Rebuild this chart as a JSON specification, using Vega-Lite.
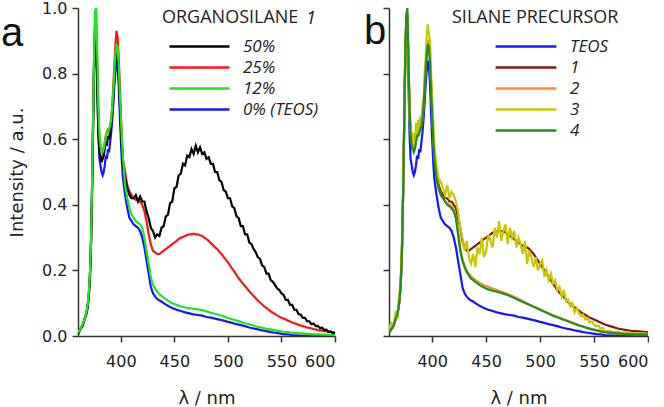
{
"$schema": "https://vega.github.io/schema/vega-lite/v6.json",
"padding": {"left": 0, "top": 0, "right": 0, "bottom": 0},
"bounds": "flush",
"spacing": 54,
"datasets": {
"A": [
{"x":360,"50%":0.005,"25%":0.01,"12%":0.01,"0% (TEOS)":0.01},
{"x":362,"50%":0.02,"25%":0.02,"12%":0.02,"0% (TEOS)":0.02},
{"x":364,"50%":0.03,"25%":0.03,"12%":0.035,"0% (TEOS)":0.03},
{"x":366,"50%":0.05,"25%":0.05,"12%":0.05,"0% (TEOS)":0.05},
{"x":368,"50%":0.07,"25%":0.07,"12%":0.075,"0% (TEOS)":0.07},
{"x":369,"50%":0.09,"25%":0.09,"12%":0.095,"0% (TEOS)":0.09},
{"x":370,"50%":0.12,"25%":0.12,"12%":0.13,"0% (TEOS)":0.12},
{"x":371,"50%":0.17,"25%":0.17,"12%":0.18,"0% (TEOS)":0.17},
{"x":372,"50%":0.26,"25%":0.26,"12%":0.27,"0% (TEOS)":0.26},
{"x":373,"50%":0.42,"25%":0.42,"12%":0.44,"0% (TEOS)":0.42},
{"x":374,"50%":0.62,"25%":0.63,"12%":0.65,"0% (TEOS)":0.63},
{"x":375,"50%":0.82,"25%":0.84,"12%":0.86,"0% (TEOS)":0.84},
{"x":376,"50%":0.9,"25%":0.96,"12%":0.99,"0% (TEOS)":0.95},
{"x":377,"50%":0.88,"25%":0.95,"12%":1.0,"0% (TEOS)":0.93},
{"x":378,"50%":0.75,"25%":0.82,"12%":0.86,"0% (TEOS)":0.78},
{"x":379,"50%":0.62,"25%":0.68,"12%":0.7,"0% (TEOS)":0.62},
{"x":380,"50%":0.56,"25%":0.6,"12%":0.61,"0% (TEOS)":0.54},
{"x":381,"50%":0.55,"25%":0.58,"12%":0.58,"0% (TEOS)":0.52},
{"x":382,"50%":0.53,"25%":0.57,"12%":0.56,"0% (TEOS)":0.5},
{"x":383,"50%":0.54,"25%":0.56,"12%":0.56,"0% (TEOS)":0.49},
{"x":384,"50%":0.55,"25%":0.57,"12%":0.57,"0% (TEOS)":0.5},
{"x":385,"50%":0.57,"25%":0.59,"12%":0.59,"0% (TEOS)":0.52},
{"x":386,"50%":0.59,"25%":0.61,"12%":0.61,"0% (TEOS)":0.55},
{"x":387,"50%":0.58,"25%":0.62,"12%":0.62,"0% (TEOS)":0.54},
{"x":388,"50%":0.61,"25%":0.63,"12%":0.62,"0% (TEOS)":0.57},
{"x":389,"50%":0.6,"25%":0.63,"12%":0.63,"0% (TEOS)":0.56},
{"x":390,"50%":0.62,"25%":0.64,"12%":0.64,"0% (TEOS)":0.59},
{"x":391,"50%":0.64,"25%":0.66,"12%":0.66,"0% (TEOS)":0.62},
{"x":392,"50%":0.68,"25%":0.7,"12%":0.7,"0% (TEOS)":0.66},
{"x":393,"50%":0.73,"25%":0.76,"12%":0.75,"0% (TEOS)":0.71},
{"x":394,"50%":0.79,"25%":0.83,"12%":0.81,"0% (TEOS)":0.77},
{"x":395,"50%":0.84,"25%":0.89,"12%":0.86,"0% (TEOS)":0.81},
{"x":396,"50%":0.87,"25%":0.93,"12%":0.89,"0% (TEOS)":0.84},
{"x":397,"50%":0.86,"25%":0.91,"12%":0.88,"0% (TEOS)":0.82},
{"x":398,"50%":0.8,"25%":0.85,"12%":0.83,"0% (TEOS)":0.77},
{"x":399,"50%":0.72,"25%":0.77,"12%":0.75,"0% (TEOS)":0.68},
{"x":400,"50%":0.64,"25%":0.68,"12%":0.67,"0% (TEOS)":0.6},
{"x":401,"50%":0.57,"25%":0.6,"12%":0.6,"0% (TEOS)":0.53},
{"x":402,"50%":0.52,"25%":0.54,"12%":0.54,"0% (TEOS)":0.48},
{"x":404,"50%":0.48,"25%":0.5,"12%":0.46,"0% (TEOS)":0.43},
{"x":406,"50%":0.45,"25%":0.46,"12%":0.42,"0% (TEOS)":0.39},
{"x":408,"50%":0.43,"25%":0.44,"12%":0.39,"0% (TEOS)":0.36},
{"x":410,"50%":0.42,"25%":0.43,"12%":0.37,"0% (TEOS)":0.35},
{"x":412,"50%":0.42,"25%":0.42,"12%":0.36,"0% (TEOS)":0.34},
{"x":414,"50%":0.43,"25%":0.415,"12%":0.35,"0% (TEOS)":0.335},
{"x":416,"50%":0.41,"25%":0.415,"12%":0.345,"0% (TEOS)":0.33},
{"x":418,"50%":0.425,"25%":0.41,"12%":0.34,"0% (TEOS)":0.32},
{"x":420,"50%":0.41,"25%":0.4,"12%":0.33,"0% (TEOS)":0.3},
{"x":422,"50%":0.41,"25%":0.38,"12%":0.3,"0% (TEOS)":0.27},
{"x":424,"50%":0.38,"25%":0.35,"12%":0.26,"0% (TEOS)":0.23},
{"x":426,"50%":0.36,"25%":0.31,"12%":0.22,"0% (TEOS)":0.19},
{"x":428,"50%":0.33,"25%":0.28,"12%":0.18,"0% (TEOS)":0.15},
{"x":430,"50%":0.32,"25%":0.26,"12%":0.155,"0% (TEOS)":0.13},
{"x":432,"50%":0.3,"25%":0.255,"12%":0.145,"0% (TEOS)":0.12},
{"x":434,"50%":0.31,"25%":0.25,"12%":0.135,"0% (TEOS)":0.113},
{"x":436,"50%":0.305,"25%":0.25,"12%":0.128,"0% (TEOS)":0.108},
{"x":438,"50%":0.33,"25%":0.255,"12%":0.122,"0% (TEOS)":0.105},
{"x":440,"50%":0.335,"25%":0.26,"12%":0.117,"0% (TEOS)":0.1},
{"x":442,"50%":0.365,"25%":0.265},
{"x":444,"50%":0.37,"25%":0.27,"12%":0.108,"0% (TEOS)":0.092},
{"x":446,"50%":0.405,"25%":0.275},
{"x":448,"50%":0.41,"25%":0.28,"12%":0.1,"0% (TEOS)":0.085},
{"x":450,"50%":0.45,"25%":0.285},
{"x":452,"50%":0.455,"25%":0.29,"12%":0.095,"0% (TEOS)":0.08},
{"x":454,"50%":0.49,"25%":0.295},
{"x":456,"50%":0.495,"25%":0.3,"12%":0.09,"0% (TEOS)":0.076},
{"x":458,"50%":0.525,"25%":0.302},
{"x":460,"50%":0.52,"25%":0.305,"12%":0.087,"0% (TEOS)":0.072},
{"x":462,"50%":0.55,"25%":0.308},
{"x":464,"50%":0.545,"25%":0.31,"12%":0.085,"0% (TEOS)":0.069},
{"x":466,"50%":0.57,"25%":0.31},
{"x":468,"50%":0.555,"25%":0.312,"12%":0.083,"0% (TEOS)":0.066},
{"x":470,"50%":0.58,"25%":0.31},
{"x":472,"50%":0.56,"25%":0.31,"12%":0.081,"0% (TEOS)":0.064},
{"x":474,"50%":0.575,"25%":0.307},
{"x":476,"50%":0.555,"25%":0.305,"12%":0.079,"0% (TEOS)":0.062},
{"x":478,"50%":0.56,"25%":0.3},
{"x":480,"50%":0.54,"25%":0.295,"12%":0.075,"0% (TEOS)":0.058},
{"x":482,"50%":0.545,"25%":0.29},
{"x":484,"50%":0.525,"25%":0.283,"12%":0.071,"0% (TEOS)":0.056},
{"x":486,"50%":0.525,"25%":0.277},
{"x":488,"50%":0.5,"25%":0.27,"12%":0.068,"0% (TEOS)":0.053},
{"x":490,"50%":0.5,"25%":0.265},
{"x":492,"50%":0.475,"25%":0.257,"12%":0.064,"0% (TEOS)":0.05},
{"x":494,"50%":0.47,"25%":0.25},
{"x":496,"50%":0.445,"25%":0.241,"12%":0.06,"0% (TEOS)":0.047},
{"x":498,"50%":0.44,"25%":0.233},
{"x":500,"50%":0.42,"25%":0.225,"12%":0.055,"0% (TEOS)":0.043},
{"x":502,"50%":0.42,"25%":0.215},
{"x":504,"50%":0.395,"25%":0.205,"12%":0.051,"0% (TEOS)":0.04},
{"x":506,"50%":0.39,"25%":0.196},
{"x":508,"50%":0.365,"25%":0.186,"12%":0.047,"0% (TEOS)":0.036},
{"x":510,"50%":0.36,"25%":0.176},
{"x":512,"50%":0.335,"25%":0.168,"12%":0.043,"0% (TEOS)":0.033},
{"x":514,"50%":0.335,"25%":0.16},
{"x":516,"50%":0.31,"25%":0.152,"12%":0.039,"0% (TEOS)":0.03},
{"x":518,"50%":0.31,"25%":0.144},
{"x":520,"50%":0.285,"25%":0.136,"12%":0.036,"0% (TEOS)":0.026},
{"x":522,"50%":0.28,"25%":0.129},
{"x":524,"50%":0.265,"25%":0.122,"12%":0.032,"0% (TEOS)":0.023},
{"x":526,"50%":0.255,"25%":0.115},
{"x":528,"50%":0.24,"25%":0.108,"12%":0.028,"0% (TEOS)":0.02},
{"x":530,"50%":0.235,"25%":0.102},
{"x":532,"50%":0.215,"25%":0.096,"12%":0.025,"0% (TEOS)":0.017},
{"x":534,"50%":0.21,"25%":0.09},
{"x":536,"50%":0.19,"25%":0.085,"12%":0.022,"0% (TEOS)":0.015},
{"x":538,"50%":0.19,"25%":0.08},
{"x":540,"50%":0.17,"25%":0.075,"12%":0.02,"0% (TEOS)":0.012},
{"x":542,"50%":0.165,"25%":0.071},
{"x":544,"50%":0.155,"25%":0.067,"12%":0.017,"0% (TEOS)":0.01},
{"x":546,"50%":0.145,"25%":0.063},
{"x":548,"50%":0.14,"25%":0.059,"12%":0.015,"0% (TEOS)":0.008},
{"x":550,"50%":0.13,"25%":0.056},
{"x":552,"50%":0.125,"25%":0.053,"12%":0.013,"0% (TEOS)":0.006},
{"x":554,"50%":0.11,"25%":0.05},
{"x":556,"50%":0.11,"25%":0.047,"12%":0.012,"0% (TEOS)":0.005},
{"x":558,"50%":0.095,"25%":0.044},
{"x":560,"50%":0.095,"25%":0.041,"12%":0.01,"0% (TEOS)":0.003},
{"x":562,"50%":0.08,"25%":0.039},
{"x":564,"50%":0.08,"25%":0.037,"12%":0.009,"0% (TEOS)":0.002},
{"x":566,"50%":0.067,"25%":0.034},
{"x":568,"50%":0.065,"25%":0.032,"12%":0.008,"0% (TEOS)":0.001},
{"x":570,"50%":0.055,"25%":0.03},
{"x":572,"50%":0.055,"25%":0.028,"12%":0.007,"0% (TEOS)":0.001},
{"x":574,"50%":0.045,"25%":0.026},
{"x":576,"50%":0.045,"25%":0.025,"12%":0.006,"0% (TEOS)":0},
{"x":578,"50%":0.036,"25%":0.023},
{"x":580,"50%":0.038,"25%":0.021,"12%":0.005,"0% (TEOS)":0},
{"x":582,"50%":0.03,"25%":0.02},
{"x":584,"50%":0.031,"25%":0.018,"12%":0.005,"0% (TEOS)":0},
{"x":586,"50%":0.024,"25%":0.017},
{"x":588,"50%":0.025,"25%":0.016,"12%":0.004,"0% (TEOS)":0},
{"x":590,"50%":0.018,"25%":0.015},
{"x":592,"50%":0.019,"25%":0.014,"12%":0.004,"0% (TEOS)":0},
{"x":594,"50%":0.013,"25%":0.013},
{"x":596,"50%":0.014,"25%":0.012,"12%":0.003,"0% (TEOS)":0},
{"x":598,"50%":0.009,"25%":0.011},
{"x":600,"50%":0.01,"25%":0.01,"12%":0.003,"0% (TEOS)":0}
],
"B": [
{"x":360,"TEOS":0.01,"1":0.01,"2":0.01,"3":0.02,"4":0.01},
{"x":362,"TEOS":0.02,"1":0.02,"2":0.02,"3":0.04,"4":0.02},
{"x":364,"TEOS":0.03,"1":0.03,"2":0.03,"3":0.03,"4":0.03},
{"x":366,"TEOS":0.05,"1":0.05,"2":0.05,"3":0.07,"4":0.05},
{"x":368,"TEOS":0.07,"1":0.07,"2":0.07,"3":0.06,"4":0.07},
{"x":369,"TEOS":0.09,"1":0.09,"2":0.09,"3":0.11,"4":0.09},
{"x":370,"TEOS":0.12,"1":0.12,"2":0.12,"3":0.13,"4":0.12},
{"x":371,"TEOS":0.17,"1":0.17,"2":0.17,"3":0.2,"4":0.17},
{"x":372,"TEOS":0.26,"1":0.26,"2":0.26,"3":0.28,"4":0.26},
{"x":373,"TEOS":0.42,"1":0.42,"2":0.42,"3":0.45,"4":0.42},
{"x":374,"TEOS":0.63,"1":0.63,"2":0.63,"3":0.6,"4":0.63},
{"x":375,"TEOS":0.84,"1":0.84,"2":0.84,"3":0.8,"4":0.84},
{"x":376,"TEOS":0.95,"1":0.97,"2":0.97,"3":0.93,"4":0.98},
{"x":377,"TEOS":0.93,"1":0.98,"2":0.98,"3":0.95,"4":1.0},
{"x":378,"TEOS":0.78,"1":0.84,"2":0.84,"3":0.85,"4":0.85},
{"x":379,"TEOS":0.62,"1":0.7,"2":0.7,"3":0.66,"4":0.7},
{"x":380,"TEOS":0.54,"1":0.62,"2":0.62,"3":0.63,"4":0.61},
{"x":381,"TEOS":0.52,"1":0.59,"2":0.59,"3":0.62,"4":0.58},
{"x":382,"TEOS":0.5,"1":0.57,"2":0.57,"3":0.59,"4":0.57},
{"x":383,"TEOS":0.49,"1":0.57,"2":0.57,"3":0.62,"4":0.56},
{"x":384,"TEOS":0.5,"1":0.58,"2":0.58,"3":0.58,"4":0.57},
{"x":385,"TEOS":0.52,"1":0.6,"2":0.6,"3":0.65,"4":0.59},
{"x":386,"TEOS":0.55,"1":0.61,"2":0.61,"3":0.6,"4":0.61},
{"x":387,"TEOS":0.54,"1":0.62,"2":0.62,"3":0.66,"4":0.61},
{"x":388,"TEOS":0.57,"1":0.63,"2":0.63,"3":0.61,"4":0.62},
{"x":389,"TEOS":0.56,"1":0.63,"2":0.63,"3":0.67,"4":0.63},
{"x":390,"TEOS":0.59,"1":0.64,"2":0.64,"3":0.65,"4":0.64},
{"x":391,"TEOS":0.62,"1":0.66,"2":0.66,"3":0.7,"4":0.66},
{"x":392,"TEOS":0.66,"1":0.7,"2":0.7,"3":0.72,"4":0.7},
{"x":393,"TEOS":0.71,"1":0.76,"2":0.76,"3":0.8,"4":0.75},
{"x":394,"TEOS":0.77,"1":0.82,"2":0.82,"3":0.85,"4":0.81},
{"x":395,"TEOS":0.81,"1":0.87,"2":0.87,"3":0.92,"4":0.86},
{"x":396,"TEOS":0.84,"1":0.9,"2":0.9,"3":0.95,"4":0.89},
{"x":397,"TEOS":0.82,"1":0.9,"2":0.9,"3":0.92,"4":0.88},
{"x":398,"TEOS":0.77,"1":0.85,"2":0.85,"3":0.9,"4":0.83},
{"x":399,"TEOS":0.68,"1":0.77,"2":0.77,"3":0.8,"4":0.75},
{"x":400,"TEOS":0.6,"1":0.69,"2":0.69,"3":0.72,"4":0.67},
{"x":401,"TEOS":0.53,"1":0.61,"2":0.61,"3":0.66,"4":0.6},
{"x":402,"TEOS":0.48,"1":0.55,"2":0.55,"3":0.58,"4":0.54},
{"x":404,"TEOS":0.43,"1":0.5,"2":0.49,"3":0.52,"4":0.48},
{"x":406,"TEOS":0.39,"1":0.46,"2":0.45,"3":0.48,"4":0.45},
{"x":408,"TEOS":0.36,"1":0.44,"2":0.43,"3":0.47,"4":0.43},
{"x":410,"TEOS":0.35,"1":0.43,"2":0.42,"3":0.45,"4":0.42},
{"x":412,"TEOS":0.34,"1":0.42,"2":0.41,"3":0.43,"4":0.41},
{"x":414,"TEOS":0.335,"1":0.42,"2":0.405,"3":0.46,"4":0.4},
{"x":416,"TEOS":0.33,"1":0.41,"2":0.4,"3":0.42,"4":0.395},
{"x":418,"TEOS":0.32,"1":0.41,"2":0.395,"3":0.44,"4":0.39},
{"x":420,"TEOS":0.3,"1":0.4,"2":0.385,"3":0.43,"4":0.38},
{"x":422,"TEOS":0.27,"1":0.39,"2":0.36,"3":0.41,"4":0.36},
{"x":424,"TEOS":0.23,"1":0.36,"2":0.32,"3":0.38,"4":0.31},
{"x":426,"TEOS":0.19,"1":0.33,"2":0.27,"3":0.33,"4":0.26},
{"x":428,"TEOS":0.15,"1":0.29,"2":0.235,"3":0.3,"4":0.23},
{"x":430,"TEOS":0.13,"1":0.27,"2":0.215,"3":0.26,"4":0.21},
{"x":432,"TEOS":0.12,"1":0.26,"2":0.2,"3":0.29,"4":0.195},
{"x":434,"TEOS":0.113,"1":0.26,"2":0.19,"3":0.24,"4":0.185},
{"x":436,"TEOS":0.108,"1":0.265,"2":0.182,"3":0.22,"4":0.175},
{"x":438,"TEOS":0.105,"1":0.27,"2":0.176,"3":0.25,"4":0.17},
{"x":440,"TEOS":0.1,"1":0.275,"2":0.171,"3":0.21,"4":0.165},
{"x":442,"1":0.28,"3":0.27},
{"x":444,"TEOS":0.092,"1":0.285,"2":0.162,"3":0.25,"4":0.155},
{"x":446,"1":0.29,"3":0.3},
{"x":448,"TEOS":0.085,"1":0.295,"2":0.155,"3":0.24,"4":0.148},
{"x":450,"1":0.3,"3":0.26},
{"x":452,"TEOS":0.08,"1":0.305,"2":0.15,"3":0.31,"4":0.142},
{"x":454,"1":0.31,"3":0.29},
{"x":456,"TEOS":0.076,"1":0.315,"2":0.145,"3":0.27,"4":0.138},
{"x":458,"1":0.318,"3":0.33},
{"x":460,"TEOS":0.072,"1":0.32,"2":0.14,"3":0.3,"4":0.135},
{"x":462,"1":0.32,"3":0.35},
{"x":464,"TEOS":0.069,"1":0.32,"2":0.135,"3":0.29,"4":0.131},
{"x":466,"1":0.32,"3":0.32},
{"x":468,"TEOS":0.066,"1":0.315,"2":0.13,"3":0.34,"4":0.127},
{"x":470,"1":0.31,"3":0.28},
{"x":472,"TEOS":0.064,"1":0.305,"2":0.125,"3":0.33,"4":0.122},
{"x":474,"1":0.3,"3":0.3},
{"x":476,"TEOS":0.062,"1":0.295,"2":0.12,"3":0.32,"4":0.116},
{"x":478,"1":0.29,"3":0.27},
{"x":480,"TEOS":0.058,"1":0.285,"2":0.113,"3":0.3,"4":0.11},
{"x":482,"1":0.28,"3":0.28},
{"x":484,"TEOS":0.056,"1":0.275,"2":0.106,"3":0.25,"4":0.104},
{"x":486,"1":0.27,"3":0.29},
{"x":488,"TEOS":0.053,"1":0.27,"2":0.099,"3":0.22,"4":0.098},
{"x":490,"1":0.265,"3":0.26},
{"x":492,"TEOS":0.05,"1":0.258,"2":0.093,"3":0.24,"4":0.092},
{"x":494,"1":0.25,"3":0.21},
{"x":496,"TEOS":0.047,"1":0.24,"2":0.087,"3":0.24,"4":0.086},
{"x":498,"1":0.23,"3":0.2},
{"x":500,"TEOS":0.043,"1":0.22,"2":0.081,"3":0.22,"4":0.08},
{"x":502,"1":0.21,"3":0.23},
{"x":504,"TEOS":0.04,"1":0.2,"2":0.075,"3":0.18,"4":0.074},
{"x":506,"1":0.19,"3":0.2},
{"x":508,"TEOS":0.036,"1":0.18,"2":0.069,"3":0.17,"4":0.068},
{"x":510,"1":0.17,"3":0.19},
{"x":512,"TEOS":0.033,"1":0.16,"2":0.063,"3":0.16,"4":0.062},
{"x":514,"1":0.15,"3":0.17},
{"x":516,"TEOS":0.03,"1":0.14,"2":0.058,"3":0.14,"4":0.057},
{"x":518,"1":0.132,"3":0.15},
{"x":520,"TEOS":0.026,"1":0.125,"2":0.053,"3":0.12,"4":0.052},
{"x":522,"1":0.118,"3":0.14},
{"x":524,"TEOS":0.023,"1":0.111,"2":0.048,"3":0.105,"4":0.047},
{"x":526,"1":0.104,"3":0.11},
{"x":528,"TEOS":0.02,"1":0.098,"2":0.043,"3":0.09,"4":0.042},
{"x":530,"1":0.092,"3":0.1},
{"x":532,"TEOS":0.017,"1":0.087,"2":0.038,"3":0.072,"4":0.037},
{"x":534,"1":0.082,"3":0.085},
{"x":536,"TEOS":0.015,"1":0.077,"2":0.033,"3":0.07,"4":0.032},
{"x":538,"1":0.072,"3":0.06},
{"x":540,"TEOS":0.012,"1":0.068,"2":0.029,"3":0.065,"4":0.028},
{"x":542,"1":0.064,"3":0.05},
{"x":544,"TEOS":0.01,"1":0.06,"2":0.025,"3":0.055,"4":0.024},
{"x":546,"1":0.056,"3":0.04},
{"x":548,"TEOS":0.008,"1":0.053,"2":0.021,"3":0.045,"4":0.02},
{"x":550,"1":0.05,"3":0.035},
{"x":552,"TEOS":0.006,"1":0.047,"2":0.018,"3":0.03,"4":0.017},
{"x":554,"1":0.044,"3":0.032},
{"x":556,"TEOS":0.005,"1":0.041,"2":0.015,"3":0.022,"4":0.014},
{"x":558,"1":0.038,"3":0.025},
{"x":560,"TEOS":0.003,"1":0.035,"2":0.013,"3":0.015,"4":0.012},
{"x":564,"TEOS":0.002,"1":0.031,"2":0.011,"3":0.016,"4":0.01},
{"x":568,"TEOS":0.001,"1":0.027,"2":0.009,"3":0.012,"4":0.009},
{"x":572,"TEOS":0.001,"1":0.023,"2":0.008,"3":0.013,"4":0.008},
{"x":576,"TEOS":0,"1":0.02,"2":0.007,"3":0.009,"4":0.007},
{"x":580,"TEOS":0,"1":0.018,"2":0.006,"3":0.01,"4":0.006},
{"x":584,"TEOS":0,"1":0.016,"2":0.006,"3":0.008,"4":0.006},
{"x":588,"TEOS":0,"1":0.015,"2":0.005,"3":0.009,"4":0.005},
{"x":592,"TEOS":0,"1":0.014,"2":0.005,"3":0.007,"4":0.005},
{"x":596,"TEOS":0,"1":0.013,"2":0.005,"3":0.008,"4":0.005},
{"x":600,"TEOS":0,"1":0.012,"2":0.005,"3":0.007,"4":0.005}
]
},
"hconcat": [
{
"width": 257, "height": 328,
"layer": [
{
"data": {"name": "A"},
"transform": [{"fold": ["0% (TEOS)", "25%", "50%", "12%"], "as": ["s", "y"]}, {"filter": "isValid(datum.y)"}],
"mark": {"type": "line", "strokeWidth": 2.2, "clip": true},
"encoding": {
"x": {"field": "x", "type": "quantitative", "scale": {"domain": [360, 600], "nice": false, "zero": false}, "axis": {"values": [400, 450, 500, 550, 600], "title": "λ / nm", "labelPadding": 11, "titlePadding": 20}},
"y": {"field": "y", "type": "quantitative", "scale": {"domain": [0, 1]}, "axis": {"values": [0, 0.2, 0.4, 0.6, 0.8, 1.0], "format": ".1f", "title": "Intensity / a.u.", "labelPadding": 5, "titlePadding": 15}},
"color": {"field": "s", "type": "nominal", "scale": {"domain": ["50%", "25%", "12%", "0% (TEOS)"], "range": ["#000000", "#ff1414", "#1ee61e", "#1414ff"]},
"legend": {"orient": "none", "legendX": 84, "legendY": 1, "title": "ORGANOSILANE", "titleFont": "Open Sans", "titleFontSize": 18, "titleFontWeight": "normal", "titleColor": "#222", "titlePadding": 9, "labelFont": "Open Sans", "labelFontStyle": "italic", "labelFontSize": 17, "labelColor": "#222", "symbolType": "stroke", "symbolSize": 3600, "symbolStrokeWidth": 2.5, "symbolOffset": 6, "labelOffset": 12, "clipHeight": 21, "rowPadding": 0}}
}
},
{
"data": {"values": [{"t": "1", "x": 573, "y": 0.951}]},
"mark": {"type": "text", "font": "Open Sans", "fontSize": 18, "fontStyle": "italic", "align": "left", "baseline": "alphabetic", "color": "#222"},
"encoding": {"x": {"field": "x", "type": "quantitative"}, "y": {"field": "y", "type": "quantitative"}, "text": {"field": "t"}}
},
{
"data": {"values": [{"t": "a", "x": 288, "y": 0.884}]},
"mark": {"type": "text", "font": "Liberation Sans", "fontSize": 40, "align": "left", "baseline": "alphabetic", "color": "#111", "clip": false},
"encoding": {"x": {"field": "x", "type": "quantitative"}, "y": {"field": "y", "type": "quantitative"}, "text": {"field": "t"}}
}
]
},
{
"width": 259, "height": 328,
"layer": [
{
"data": {"name": "B"},
"transform": [{"fold": ["TEOS", "1", "2", "3", "4"], "as": ["s", "y"]}, {"filter": "isValid(datum.y)"}],
"mark": {"type": "line", "strokeWidth": 2.2, "clip": true},
"encoding": {
"x": {"field": "x", "type": "quantitative", "scale": {"domain": [360, 600], "nice": false, "zero": false}, "axis": {"values": [400, 450, 500, 550, 600], "title": "λ / nm", "labelPadding": 11, "titlePadding": 20}},
"y": {"field": "y", "type": "quantitative", "scale": {"domain": [0, 1]}, "axis": {"values": [0, 0.2, 0.4, 0.6, 0.8, 1.0], "labels": false, "title": null}},
"color": {"field": "s", "type": "nominal", "scale": {"domain": ["TEOS", "1", "2", "3", "4"], "range": ["#1414ff", "#8b1414", "#ff8a1e", "#c8c800", "#1f8f1f"]},
"legend": {"orient": "none", "legendX": 63, "legendY": 1, "title": "SILANE PRECURSOR", "titleFont": "Open Sans", "titleFontSize": 18, "titleFontWeight": "normal", "titleColor": "#222", "titlePadding": 9, "labelFont": "Open Sans", "labelFontStyle": "italic", "labelFontSize": 17, "labelColor": "#222", "symbolType": "stroke", "symbolSize": 3700, "symbolStrokeWidth": 2.5, "symbolOffset": 42, "labelOffset": 12, "clipHeight": 21, "rowPadding": 0}}
}
},
{
"data": {"values": [{"t": "b", "x": 336.8, "y": 0.89}]},
"mark": {"type": "text", "font": "Liberation Sans", "fontSize": 40, "align": "left", "baseline": "alphabetic", "color": "#111", "clip": false},
"encoding": {"x": {"field": "x", "type": "quantitative"}, "y": {"field": "y", "type": "quantitative"}, "text": {"field": "t"}}
}
]
}
],
"resolve": {"scale": {"color": "independent"}, "legend": {"color": "independent"}},
"config": {
"view": {"stroke": null},
"axis": {"domainColor": "#333", "domainWidth": 1.5, "tickColor": "#333", "tickWidth": 1.5, "tickSize": 6, "labelFont": "DejaVu Sans", "labelFontSize": 16, "labelColor": "#222", "titleFont": "DejaVu Sans", "titleFontSize": 18, "titleFontWeight": "normal", "titleColor": "#222", "grid": false},
"legend": {"padding": 0}
}
}
